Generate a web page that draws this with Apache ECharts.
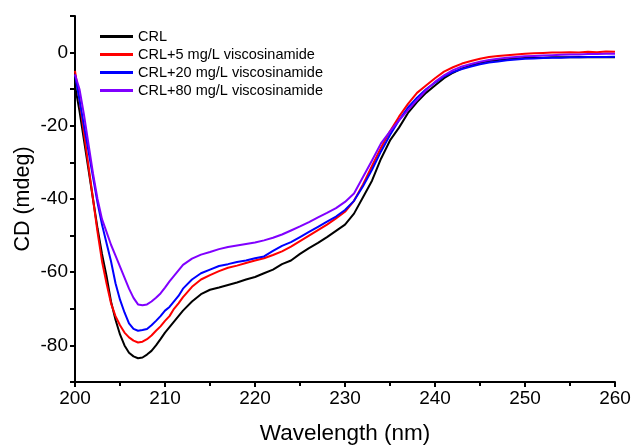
<!DOCTYPE html>
<html><head><meta charset="utf-8">
<script src="https://cdn.jsdelivr.net/npm/echarts@6/dist/echarts.min.js"></script>
<style>html,body{margin:0;padding:0;background:#fff}#c{width:632px;height:445px}</style>
</head><body><div id="c"></div>
<script>
var wavelength = [200,200.5,201,201.5,202,202.5,203,203.5,204,204.5,205,205.5,206,206.5,207,207.5,208,208.5,209,209.5,210,210.5,211,211.5,212,
213,214,215,216,217,218,219,220,221,222,223,224,225,226,227,228,229,230,231,232,233,234,235,236,237,238,239,240,
241,242,243,244,245,246,247,248,249,250,251,252,253,254,255,256,257,258,259,260];

var crl = [-9,-16,-24,-32,-40,-48,-55,-61,-68,-73,-77,-80,-82,-83,-83.5,-83.3,-82.5,-81.5,-80,-78.3,-76.5,-75,-73.5,-72,-70.5,
-68,-66,-64.8,-64.2,-63.5,-62.8,-62,-61.3,-60.3,-59.3,-57.8,-56.8,-55,-53.4,-52,-50.4,-48.7,-47,-44,-39.5,-35,-29,-24,-20.5,-16.5,-13.5,-11,-9,
-7,-5.5,-4.3,-3.5,-2.8,-2.3,-2,-1.8,-1.6,-1.5,-1.4,-1.4,-1.3,-1.3,-1.3,-1.2,-1.3,-1.3,-1.2,-1.3];

var crl5 = [-5,-13,-22,-31,-40,-49,-57,-63,-68.5,-72,-74.5,-76.5,-77.8,-78.7,-79.2,-79,-78.3,-77.3,-76,-74.8,-73.3,-72,-70,-68.5,-66.8,
-64,-62,-60.8,-59.7,-58.8,-58.2,-57.5,-56.8,-56.2,-55.3,-54.3,-53,-51.5,-50,-48.5,-47,-45.3,-43.5,-40.5,-36,-31,-26,-21.5,-17.5,-14,-11,-9,-7,
-5.2,-4,-3,-2.3,-1.7,-1.2,-0.9,-0.7,-0.5,-0.3,-0.2,-0.1,0,0,0.1,0,0.2,0.1,0.3,0.2];

var crl20 = [-6,-13,-20,-27,-34,-41,-47,-52,-57,-63,-67.5,-71,-74,-75.5,-76,-75.8,-75.5,-74.5,-73.3,-72,-70.5,-69.5,-68,-66.5,-64.5,
-62,-60.3,-59.3,-58.3,-57.8,-57.2,-56.8,-56.2,-55.7,-54.2,-52.8,-51.8,-50.4,-49,-47.6,-46.2,-44.8,-43,-40.5,-36.5,-32,-27,-22.5,-18.5,-15,-12.3,-10,-8.2,
-6.5,-5.3,-4.5,-3.8,-3.2,-2.7,-2.4,-2.1,-1.9,-1.7,-1.6,-1.5,-1.4,-1.4,-1.3,-1.3,-1.2,-1.2,-1.2,-1.1];

var crl80 = [-6,-10,-17,-25,-33,-40,-45.5,-49,-52.5,-55.5,-58.5,-61.5,-64.5,-67,-68.8,-69,-68.8,-68,-67,-65.8,-64.2,-62.5,-61,-59.5,-58,
-56.3,-55.2,-54.5,-53.7,-53.1,-52.7,-52.3,-51.9,-51.3,-50.6,-49.7,-48.6,-47.5,-46.3,-45,-43.8,-42.5,-40.8,-38.5,-34,-29.5,-24.8,-21.5,-18.5,-15.7,-13,-10.3,-8,
-6.2,-4.8,-3.8,-3.1,-2.5,-2,-1.7,-1.4,-1.2,-1,-0.9,-0.8,-0.7,-0.6,-0.5,-0.5,-0.4,-0.4,-0.3,-0.3];

var seriesNames = ['CRL','CRL+5 mg/L viscosinamide','CRL+20 mg/L viscosinamide','CRL+80 mg/L viscosinamide'];
var seriesValues = [crl, crl5, crl20, crl80];
var seriesColors = ['#000000','#ff0000','#0000ff','#8000ff'];

function pairs(v){ return wavelength.map(function(w,i){ return [w, v[i]]; }); }

var font = 'Arial, "Liberation Sans", sans-serif';
var chart = echarts.init(document.getElementById('c'), null, {renderer:'canvas'});
chart.setOption({
  animation:false,
  backgroundColor:'#fff',
  grid:{left:75, right:17, top:16, bottom:63, containLabel:false, outerBoundsMode:'none'},
  legend:{
    orient:'vertical', left:95, top:24, itemWidth:33, itemHeight:3, itemGap:3,
    icon:'rect',
    textStyle:{fontFamily:font, fontSize:14.5, color:'#000', lineHeight:15},
    data:seriesNames
  },
  xAxis:{
    type:'value', min:200, max:260, interval:10,
    name:'Wavelength (nm)', nameLocation:'middle', nameGap:40, nameMoveOverlap:false,
    nameTextStyle:{fontFamily:font, fontSize:22.5, color:'#000'},
    axisLine:{show:true, onZero:false, lineStyle:{color:'#000', width:2}},
    axisTick:{show:true, length:5, lineStyle:{color:'#000', width:2}},
    minorTick:{show:true, splitNumber:2, length:4, lineStyle:{color:'#000', width:2}},
    axisLabel:{fontFamily:font, fontSize:19, color:'#000', margin:7},
    splitLine:{show:false}
  },
  yAxis:{
    type:'value', min:-90, max:10, interval:10,
    name:'CD (mdeg)', nameLocation:'middle', nameGap:41, nameRotate:90, nameMoveOverlap:false,
    nameTextStyle:{fontFamily:font, fontSize:21.5, color:'#000'},
    axisLine:{show:true, onZero:false, lineStyle:{color:'#000', width:2}},
    axisTick:{show:true, length:5, lineStyle:{color:'#000', width:2}},
    axisLabel:{fontFamily:font, fontSize:19, color:'#000', margin:7,
      formatter:function(v){ return (Math.round(v) % 20 === 0) ? String(v) : ''; }},
    splitLine:{show:false}
  },
  series: seriesNames.map(function(n,i){
    return {name:n, type:'line', data:pairs(seriesValues[i]), showSymbol:false, symbol:'none',
      lineStyle:{color:seriesColors[i], width:2}, itemStyle:{color:seriesColors[i]}, smooth:false};
  })
});
</script></body></html>
